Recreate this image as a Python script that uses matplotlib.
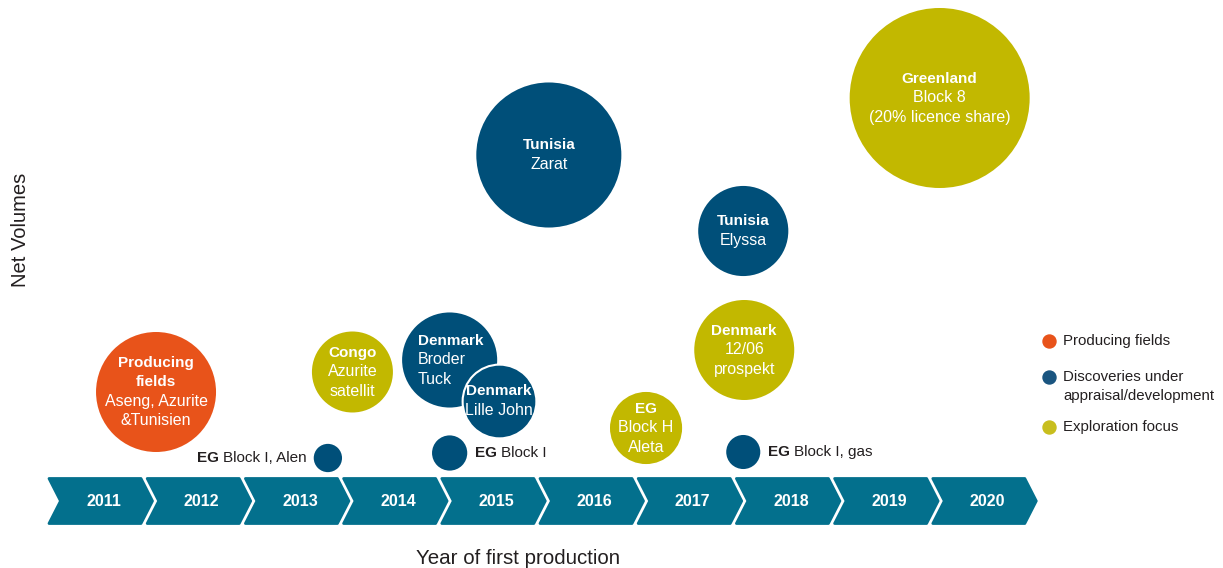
import numpy as np
import matplotlib.pyplot as plt
from matplotlib.patches import Polygon

plt.rcParams['font.family'] = ['Liberation Sans', 'DejaVu Sans']

# Data
years = [2011, 2012, 2013, 2014, 2015, 2016, 2017, 2018, 2019, 2020]

# bubbles: year of first production, net volume level, bubble size, category
b_year = [2011.54, 2013.54, 2013.29, 2014.53, 2015.03, 2014.53, 2015.54, 2016.53, 2017.52, 2017.53, 2017.52, 2019.52]
b_level = [1.76, 1.96, 1.10, 2.08, 1.67, 1.15, 4.13, 1.40, 3.37, 2.18, 1.16, 4.70]
b_size = [36.0, 16.4, 2.0, 22.6, 13.6, 3.1, 52.6, 13.0, 20.3, 25.0, 2.9, 81.0]
b_cat = ['prod', 'expl', 'disc', 'disc', 'disc', 'disc', 'disc', 'expl', 'disc', 'expl', 'disc', 'expl']
b_title = ['Producing\nfields', 'Congo', 'EG', 'Denmark', 'Denmark', 'EG', 'Tunisia', 'EG', 'Tunisia', 'Denmark', 'EG', 'Greenland']
b_sub = ['Aseng, Azurite\n&Tunisien', 'Azurite\nsatellit', 'Block I, Alen', 'Broder\nTuck', 'Lille John',
         'Block I', 'Zarat', 'Block H\nAleta', 'Elyssa', '12/06\nprospekt', 'Block I, gas',
         'Block 8\n(20% licence share)']
# where the label goes: inside the bubble, left of it or right of it
b_place = ['in', 'in', 'left', 'in_left', 'in', 'right', 'in', 'in', 'in', 'in', 'right', 'in']

cat_names = ['prod', 'disc', 'expl']
cat_labels = ['Producing fields', 'Discoveries under\nappraisal/development', 'Exploration focus']
cat_colors = {'prod': '#E8531A', 'disc': '#004F79', 'expl': '#C2B800'}
legend_colors = {'prod': '#E8531A', 'disc': '#1A5580', 'expl': '#C8BE1E'}

chevron_color = '#03708D'
dark = '#231F20'

fig = plt.figure(figsize=(12.23, 5.68), dpi=100)
ax = fig.add_axes([0, 0, 1, 1])
step = 98.2  # pixels per year
x0 = 2011 - 103 / step
ax.set_xlim(x0, x0 + 1223 / step)
ax.set_ylim(0, 5.68)
ax.axis('off')

# chevrons
px = 1 / step
for y in years:
    left = y - 54 * px
    right = left + 92 * px
    tip = 11.5 * px
    yc, h = 0.67, 0.225
    pts = [(left, yc + h), (right, yc + h), (right + tip, yc), (right, yc - h),
           (left, yc - h), (left + tip, yc)]
    ax.add_patch(Polygon(pts, closed=True, facecolor=chevron_color, edgecolor=chevron_color,
                         linewidth=2, joinstyle='round', zorder=2))
    ax.text(y + 0.5 * px, yc, str(y), color='white', fontsize=11.5, fontweight='bold',
            ha='center', va='center', zorder=3)

# bubbles
pt_per_px = 0.72
for i in range(len(b_year)):
    r_px = np.sqrt(b_size[i]) * 10
    s = (2 * r_px * pt_per_px) ** 2
    edge = 'white' if b_title[i] == 'Denmark' and b_sub[i] == 'Lille John' else 'none'
    ax.scatter(b_year[i], b_level[i], s=s, color=cat_colors[b_cat[i]], edgecolors=edge,
               linewidths=1.5, zorder=4 + i * 0.01)

    if b_place[i] in ('in', 'in_left'):
        lines = [(t, 'bold', 11) for t in b_title[i].split('\n')] + \
                [(t, 'normal', 11.5) for t in b_sub[i].split('\n')]
        n = len(lines)
        dx = -32 if b_place[i] == 'in_left' else 0
        ha = 'left' if b_place[i] == 'in_left' else 'center'
        for k, (t, w, fs) in enumerate(lines):
            dy = -(k - (n - 1) / 2) * 19.3
            ax.annotate(t, xy=(b_year[i], b_level[i]), xytext=(dx * pt_per_px, dy * pt_per_px),
                        textcoords='offset points', ha=ha, va='center', color='white',
                        fontsize=fs, fontweight=w, zorder=6)
    elif b_place[i] == 'left':
        gap = (r_px + 7) * pt_per_px
        t2 = ax.annotate(b_sub[i], xy=(b_year[i], b_level[i]), xytext=(-gap, 0),
                         textcoords='offset points', ha='right', va='center',
                         color=dark, fontsize=11, zorder=6)
        ax.annotate(b_title[i], xy=(0, 0.5), xycoords=t2, xytext=(-3, 0),
                    textcoords='offset points', ha='right', va='center',
                    color=dark, fontsize=11, fontweight='bold', zorder=6)
    else:
        gap = (r_px + 8) * pt_per_px
        t1 = ax.annotate(b_title[i], xy=(b_year[i], b_level[i]), xytext=(gap, 0),
                         textcoords='offset points', ha='left', va='center',
                         color=dark, fontsize=11, fontweight='bold', zorder=6)
        ax.annotate(b_sub[i], xy=(1, 0.5), xycoords=t1, xytext=(3, 0),
                    textcoords='offset points', ha='left', va='center',
                    color=dark, fontsize=11, zorder=6)

# legend
leg_y = [2.27, 1.91, 1.41]
for c, lab, ly in zip(cat_names, cat_labels, leg_y):
    ax.scatter(x0 + 1049 * px, ly, s=(13 * pt_per_px) ** 2, color=legend_colors[c], zorder=5)
    first, *rest = lab.split('\n')
    ax.text(x0 + 1063 * px, ly, first, fontsize=10.8, color=dark, va='center', ha='left')
    for k, t in enumerate(rest):
        ax.text(x0 + 1063 * px, ly - 0.19 * (k + 1), t, fontsize=10.8, color=dark,
                va='center', ha='left')

# axis titles
ax.text(x0 + 20 * px, 5.68 - 2.30, 'Net Volumes', rotation=90, fontsize=14.5, color=dark,
        ha='center', va='center')
ax.text(x0 + 518 * px, 0.10, 'Year of first production', fontsize=14.8, color=dark,
        ha='center', va='center')

fig.savefig('out.png', dpi=100)
